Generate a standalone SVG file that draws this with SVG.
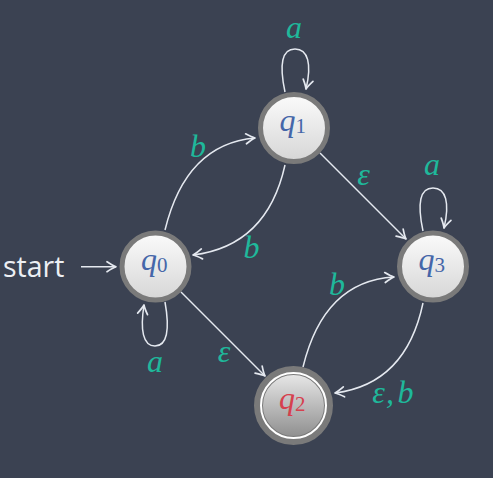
<svg xmlns="http://www.w3.org/2000/svg" width="493" height="478" viewBox="0 0 493 478">
<defs>
<linearGradient id="gw" x1="0" y1="0" x2="0" y2="1">
<stop offset="0" stop-color="#fbfbfb"/><stop offset="1" stop-color="#d6d6d6"/>
</linearGradient>
<linearGradient id="gg" x1="0" y1="0" x2="0" y2="1">
<stop offset="0" stop-color="#ececec"/><stop offset="1" stop-color="#8a8a8a"/>
</linearGradient>
<marker id="arr" viewBox="-10 -6 12 12" refX="0" refY="0" markerWidth="12" markerHeight="12" markerUnits="userSpaceOnUse" orient="auto" overflow="visible">
<path d="M-9,-5 Q-3,-1 0,0 Q-3,1 -9,5" fill="none" stroke="#e5e9f0" stroke-width="1.7" stroke-linecap="round" stroke-linejoin="round"/>
</marker>
</defs>
<style>
.edge{fill:none;stroke:#e5e9f0;stroke-width:1.5;marker-end:url(#arr)}
.node{fill:url(#gw);stroke:#7a7a7a;stroke-width:5}
.acc{fill:url(#gg);stroke:#7a7a7a;stroke-width:9}
.ql{font-family:"Liberation Serif",serif;font-style:italic;font-size:32px;fill:#4566a9}
.qr{fill:#d6404e}
.sub{font-style:normal;font-size:21px}
.lbl{font-family:"Liberation Serif",serif;font-style:italic;font-size:32px;fill:#1fb89b;text-anchor:middle}
.st{font-family:"Open Sans",sans-serif;font-size:28.5px;fill:#eceff4}
</style>
<rect width="493" height="478" fill="#3b4252"/>
<g id="connectors">
<path class="edge" d="M81,266.7 L116,266.7"/>
<path class="edge" d="M165,302 C170,330 167,346 155,346 C143,346 140,330 144,305"/>
<path class="edge" d="M285,92 C279,64 282,49 295,49 C308,49 312,64 306,89"/>
<path class="edge" d="M423,231 C417,203 420,188 433,188 C446,188 450,203 444,228"/>
<path class="edge" d="M165,230 Q186,144 255,138"/>
<path class="edge" d="M285,165 Q267,246 193,255"/>
<path class="edge" d="M303,367 Q324,281 394,277"/>
<path class="edge" d="M423,303 Q406,384 335,393"/>
<path class="edge" d="M320,153 L406,239"/>
<path class="edge" d="M181,292 L265,376"/>
<text class="lbl" x="294" y="38">a</text>
<text class="lbl" x="432" y="175">a</text>
<text class="lbl" x="155" y="372">a</text>
<text class="lbl" x="198" y="157">b</text>
<text class="lbl" x="251.5" y="258">b</text>
<text class="lbl" x="363.5" y="185">ε</text>
<text class="lbl" x="224" y="362">ε</text>
<text class="lbl" x="337" y="295">b</text>
<text class="lbl" x="378.5" y="403">ε</text>
<text class="lbl" x="390" y="403">,</text>
<text class="lbl" x="405.5" y="403">b</text>
</g>
<text class="st" x="3" y="277">start</text>
<g id="q0">
<circle class="node" cx="155.5" cy="266.5" r="33.5"/>
<text class="ql" x="141" y="269.5">q<tspan class="sub" dy="2">0</tspan></text>
</g>
<g id="q1">
<circle class="node" cx="294" cy="128" r="33.5"/>
<text class="ql" x="279.5" y="131">q<tspan class="sub" dy="2">1</tspan></text>
</g>
<g id="q3">
<circle class="node" cx="433" cy="266.5" r="33.5"/>
<text class="ql" x="418.5" y="269.5">q<tspan class="sub" dy="2">3</tspan></text>
</g>
<g id="q2">
<circle class="acc" cx="293.5" cy="405.5" r="35"/>
<circle cx="293.5" cy="405.5" r="32.5" fill="none" stroke="#ffffff" stroke-width="2"/>
<text class="ql qr" x="279" y="408.5">q<tspan class="sub" dy="2">2</tspan></text>
</g>
</svg>
